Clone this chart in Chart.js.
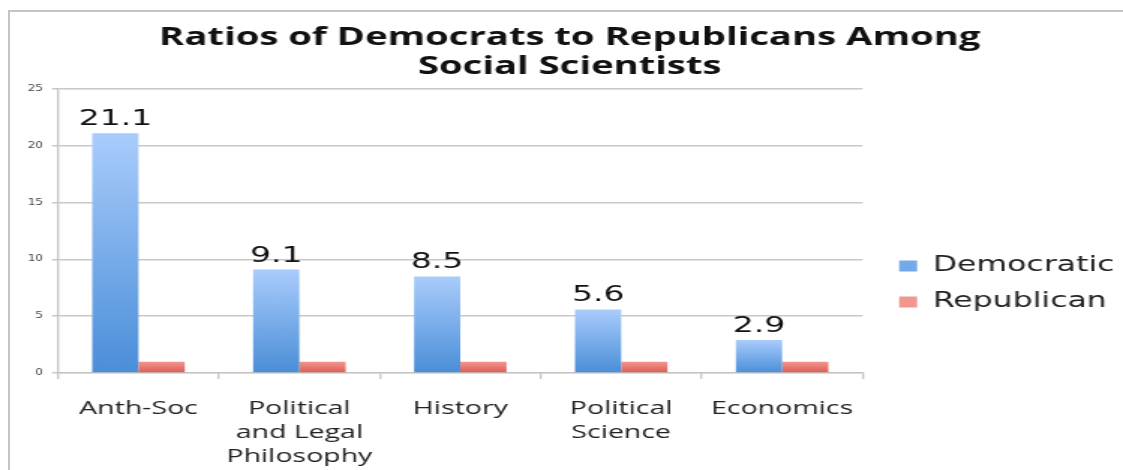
<!DOCTYPE html>
<html>
<head>
<meta charset="utf-8">
<script src="https://cdn.jsdelivr.net/npm/chart.js@4"></script>
<style>
  html, body { margin: 0; padding: 0; background: #fff; overflow: hidden; }
  #frame {
    position: absolute; left: 8px; top: 10px; width: 1200px; height: 500px;
    border-top: 2px solid #c4c4c4; border-left: 2px solid #c4c4c4;
  }
  #wrap {
    position: absolute; left: 0; top: 0; width: 749px; height: 470px;
    transform: scaleX(1.4993); transform-origin: 0 0;
  }
</style>
</head>
<body>
<div id="frame"></div>
<div id="wrap"><canvas id="ratioChart"></canvas></div>
<script>
const fields = [
  "Anth-Soc",
  ["Political", "and Legal", "Philosophy"],
  "History",
  ["Political", "Science"],
  "Economics"
];
const democratic = [21.1, 9.1, 8.5, 5.6, 2.9];
const republican = [1, 1, 1, 1, 1];
const yTicks = [0, 5, 10, 15, 20, 25];

// each bar gets its own top-to-bottom gradient
function barFill(light, dark, flat) {
  return function(ctx) {
    const chart = ctx.chart;
    const y = chart.scales && chart.scales.y;
    if (ctx.dataIndex === undefined || !y) return flat;
    const value = ctx.dataset.data[ctx.dataIndex];
    const top = y.getPixelForValue(value);
    const bottom = y.getPixelForValue(0);
    if (!isFinite(top) || !isFinite(bottom) || top === bottom) return flat;
    const g = chart.ctx.createLinearGradient(0, top, 0, bottom);
    g.addColorStop(0, light);
    g.addColorStop(1, dark);
    return g;
  };
}

const valueLabels = {
  id: "valueLabels",
  afterDatasetsDraw(chart) {
    const ctx = chart.ctx;
    const meta = chart.getDatasetMeta(0);
    ctx.save();
    ctx.font = "22px 'DejaVu Sans'";
    ctx.fillStyle = "#111";
    ctx.textAlign = "center";
    ctx.textBaseline = "alphabetic";
    meta.data.forEach((bar, i) => {
      ctx.fillText(democratic[i].toFixed(1), bar.x, bar.y - 8);
    });
    ctx.restore();
  }
};

new Chart(document.getElementById("ratioChart"), {
  type: "bar",
  data: {
    labels: fields,
    datasets: [
      {
        label: "Democratic",
        data: democratic,
        backgroundColor: barFill("#a9ccfc", "#4a8ed8", "#5b9be2"),
        borderWidth: 0
      },
      {
        label: "Republican",
        data: republican,
        backgroundColor: barFill("#f29790", "#dc5a53", "#e8706a"),
        borderWidth: 0
      }
    ]
  },
  options: {
    responsive: true,
    maintainAspectRatio: false,
    animation: false,
    layout: { padding: { left: 11, right: 0, top: 0, bottom: 0 } },
    datasets: { bar: { barPercentage: 1, categoryPercentage: 0.575 } },
    scales: {
      x: {
        grid: { display: true, offset: true, drawOnChartArea: false, tickLength: 6, color: "#c4c4c4", lineWidth: 1.3 },
        border: { display: true, color: "#c4c4c4", width: 1.3 },
        ticks: {
          font: { family: "'Open Sans'", size: 19, lineHeight: 24 / 19 },
          color: "#222",
          padding: 18,
          maxRotation: 0,
          autoSkip: false
        },
        afterFit: s => { s.height = 97; }
      },
      y: {
        min: 0,
        max: 25,
        afterBuildTicks: s => { s.ticks = yTicks.map(v => ({ value: v })); },
        grid: { color: "#c8c8c8", lineWidth: 1.5, tickLength: 4 },
        border: { display: true, color: "#c4c4c4", width: 1.3 },
        ticks: {
          font: { family: "'DejaVu Sans'", size: 8 },
          color: "#444",
          padding: 6
        },
        afterFit: s => { s.width = 27.7; }
      },
      spacer: {
        type: "linear",
        position: "right",
        display: true,
        grid: { display: false, drawTicks: false },
        border: { display: false },
        ticks: { display: false },
        afterFit: s => { s.width = 9.4; }
      }
    },
    plugins: {
      title: {
        display: true,
        text: ["Ratios of Democrats to Republicans Among", "Social Scientists"],
        font: { family: "'Open Sans'", weight: "bold", size: 25.5, lineHeight: 29.5 / 25.5 },
        color: "#111",
        padding: { top: 22.5, bottom: 7.5 }
      },
      legend: {
        position: "right",
        align: "start",
        fullSize: false,
        maxWidth: 164.3,
        title: { display: true, text: " ", font: { size: 10, lineHeight: 1 }, padding: { top: 141.5, bottom: 0 } },
        labels: {
          boxWidth: 12,
          boxHeight: 11,
          padding: 15,
          color: "#222",
          font: { family: "'DejaVu Sans'", size: 21 }
        }
      },
      tooltip: { enabled: false }
    }
  },
  plugins: [valueLabels]
});
</script>
</body>
</html>
